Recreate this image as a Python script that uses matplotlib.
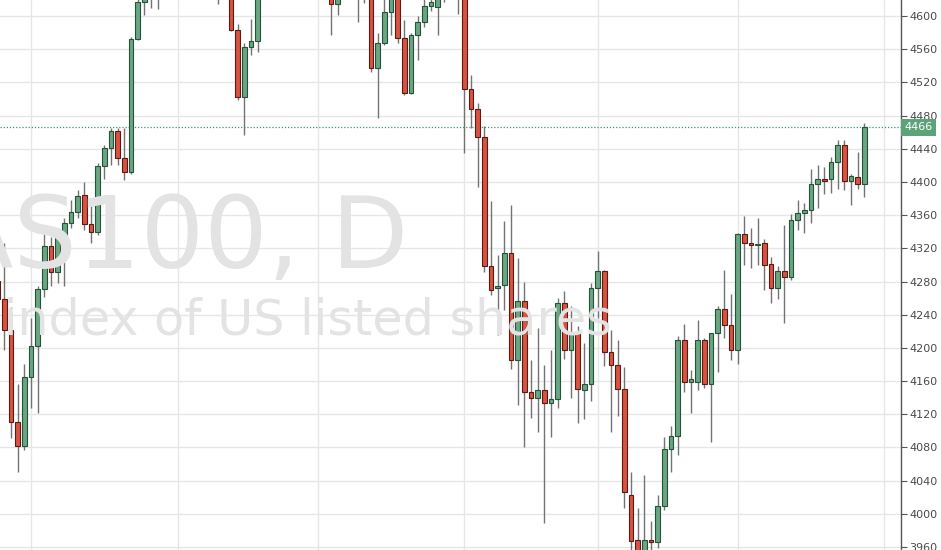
import matplotlib
matplotlib.use("Agg")
import matplotlib.pyplot as plt
import matplotlib.transforms as mtransforms

# daily NAS100 candles, index -1 is the partial bar at the left edge
# bars above ~4619 are cut off by the top of the chart (estimated)
opens = [4281, 4259, 4222, 4111, 4082, 4165, 4202, 4271, 4323, 4292,
         4336, 4350, 4364, 4384, 4349, 4340, 4419, 4441, 4461, 4429,
         4412, 4572, 4617, 4640, 4652, 4645, 4664, 4682, 4690, 4680,
         4705, 4698, 4668, 4684, 4650, 4672, 4583, 4502, 4563, 4570,
         4630, 4645, 4660, 4648, 4668, 4662, 4650, 4665, 4684, 4668,
         4640, 4615, 4638, 4655, 4648, 4636, 4642, 4537, 4567, 4605,
         4628, 4573, 4507, 4577, 4593, 4612, 4611, 4632, 4645, 4660,
         4650, 4512, 4488, 4454, 4299, 4272, 4276, 4314, 4185, 4256,
         4147, 4139, 4149, 4134, 4138, 4254, 4197, 4218, 4149, 4156,
         4272, 4293, 4195, 4179, 4150, 4023, 3968, 3950, 3968, 3966,
         4010, 4078, 4094, 4210, 4159, 4159, 4209, 4156, 4218, 4247,
         4228, 4198, 4337, 4327, 4324, 4326, 4301, 4272, 4293, 4285,
         4354, 4363, 4366, 4397, 4404, 4403, 4424, 4444, 4401, 4406,
         4397]
highs = [4292, 4326, 4249, 4157, 4181, 4236, 4275, 4340, 4334, 4345,
         4357, 4378, 4390, 4400, 4375, 4423, 4445, 4465, 4465, 4465,
         4575, 4628, 4648, 4660, 4668, 4672, 4690, 4700, 4705, 4712,
         4720, 4710, 4690, 4695, 4680, 4680, 4590, 4567, 4597, 4640,
         4652, 4668, 4675, 4672, 4685, 4680, 4672, 4690, 4695, 4676,
         4650, 4645, 4662, 4670, 4660, 4650, 4650, 4579, 4625, 4640,
         4645, 4595, 4580, 4600, 4625, 4628, 4640, 4655, 4670, 4672,
         4660, 4529, 4495, 4467, 4377, 4312, 4353, 4372, 4308, 4280,
         4185, 4224, 4179, 4198, 4260, 4268, 4250, 4226, 4206, 4278,
         4317, 4294, 4222, 4210, 4177, 4050, 4007, 4047, 3991, 4023,
         4093, 4106, 4214, 4229, 4173, 4234, 4212, 4218, 4251, 4294,
         4265, 4338, 4359, 4345, 4356, 4331, 4310, 4299, 4348, 4361,
         4378, 4375, 4416, 4421, 4418, 4430, 4450, 4450, 4410, 4436,
         4471]
lows = [4250, 4198, 4091, 4051, 4077, 4127, 4121, 4261, 4274, 4278,
        4274, 4345, 4357, 4342, 4327, 4336, 4404, 4420, 4420, 4402,
        4410, 4571, 4601, 4610, 4609, 4628, 4655, 4668, 4672, 4675,
        4688, 4660, 4648, 4614, 4632, 4582, 4499, 4457, 4553, 4557,
        4625, 4636, 4640, 4642, 4655, 4640, 4632, 4658, 4660, 4635,
        4577, 4601, 4630, 4640, 4593, 4616, 4533, 4477, 4565, 4577,
        4567, 4505, 4506, 4547, 4587, 4606, 4577, 4617, 4635, 4603,
        4435, 4465, 4394, 4292, 4264, 4215, 4246, 4175, 4131, 4081,
        4115, 4099, 3989, 4093, 4127, 4187, 4140, 4109, 4114, 4136,
        4236, 4178, 4099, 4118, 4007, 3945, 3938, 3940, 3950, 3959,
        4005, 4050, 4071, 4147, 4121, 4149, 4152, 4087, 4171, 4212,
        4186, 4181, 4300, 4296, 4300, 4270, 4254, 4259, 4230, 4282,
        4342, 4339, 4350, 4369, 4386, 4387, 4392, 4390, 4372, 4391,
        4382]
closes = [4259, 4222, 4111, 4082, 4165, 4202, 4271, 4323, 4292, 4336,
          4350, 4364, 4383, 4349, 4340, 4419, 4441, 4461, 4429, 4412,
          4572, 4617, 4640, 4652, 4645, 4664, 4682, 4690, 4680, 4705,
          4698, 4668, 4684, 4650, 4672, 4583, 4502, 4563, 4570, 4630,
          4645, 4660, 4648, 4668, 4662, 4650, 4665, 4684, 4668, 4640,
          4615, 4638, 4655, 4648, 4636, 4642, 4537, 4567, 4605, 4628,
          4573, 4507, 4577, 4593, 4612, 4617, 4632, 4645, 4660, 4650,
          4512, 4488, 4454, 4299, 4270, 4275, 4314, 4185, 4256, 4147,
          4139, 4149, 4134, 4138, 4254, 4197, 4218, 4150, 4156, 4272,
          4293, 4195, 4179, 4150, 4026, 3967, 3950, 3968, 3966, 4010,
          4078, 4094, 4210, 4159, 4162, 4209, 4156, 4218, 4247, 4228,
          4198, 4337, 4327, 4324, 4324.5, 4300, 4272, 4293, 4285, 4354,
          4363, 4366, 4397, 4404, 4401, 4424, 4444, 4401, 4407, 4397,
          4466]
days = list(range(-1, len(opens) - 1))

month_starts = [4, 26, 47, 69, 89, 110, 132]
price_ticks = list(range(3960, 4601, 40))
last_price = 4466

up_fill, up_edge = "#6ba583", "#225437"
dn_fill, dn_edge = "#d75442", "#5b1a13"
wick_col = "#737375"

fig = plt.figure(figsize=(9.41, 5.5), dpi=100)
ax = fig.add_axes([0, 0, 901 / 941, 1])

# watermark
fig.text(408 / 941, 1 - 268 / 550, "NAS100, D", ha="right", va="baseline",
         fontsize=72, color="#e3e3e3", family="DejaVu Sans", zorder=0)
fig.text(612 / 941, 1 - 335 / 550, "Nasdaq 100 index of US listed shares",
         ha="right", va="baseline", fontsize=35.5, color="#e3e3e3",
         family="DejaVu Sans", zorder=0)
ax.patch.set_alpha(0)

is_up = [c >= o for o, c in zip(opens, closes)]
body_lo = [min(o, c) for o, c in zip(opens, closes)]
body_h = [max(abs(c - o), 0.8) for o, c in zip(opens, closes)]

ax.vlines(days, lows, highs, color=wick_col, lw=1, zorder=3)
ax.bar(days, body_h, bottom=body_lo, width=0.72,
       color=[up_fill if u else dn_fill for u in is_up],
       edgecolor=[up_edge if u else dn_edge for u in is_up],
       linewidth=0.8, zorder=4)

ax.axhline(last_price, color="#3f9472", ls=(0, (1, 1.5)), lw=0.9, zorder=2.5)

ax.set_xlim(-0.645, 134.5)
ax.set_ylim(3956.4, 4619.3)
ax.set_xticks(month_starts)
ax.set_yticks(price_ticks)
ax.grid(True, color="#e6e6e6", lw=1)
ax.tick_params(axis="x", length=0, labelbottom=False)
ax.yaxis.tick_right()
ax.tick_params(axis="y", direction="out", length=4, width=0.8, color="#555555",
               labelsize=8, labelcolor="#4a4a4a", pad=2)
for s in ["top", "left", "bottom"]:
    ax.spines[s].set_visible(False)
ax.spines["right"].set_color("#555555")
ax.spines["right"].set_linewidth(1)

trans = mtransforms.blended_transform_factory(ax.transAxes, ax.transData)
trans = mtransforms.offset_copy(trans, fig=fig, x=3, y=0, units="dots")
ax.text(1.0, last_price, str(last_price), transform=trans, ha="left", va="center",
        fontsize=8, color="white", zorder=6, clip_on=False,
        bbox=dict(boxstyle="square,pad=0.3", fc="#5ca37a", ec="none"))

fig.savefig("out.png", dpi=100)
